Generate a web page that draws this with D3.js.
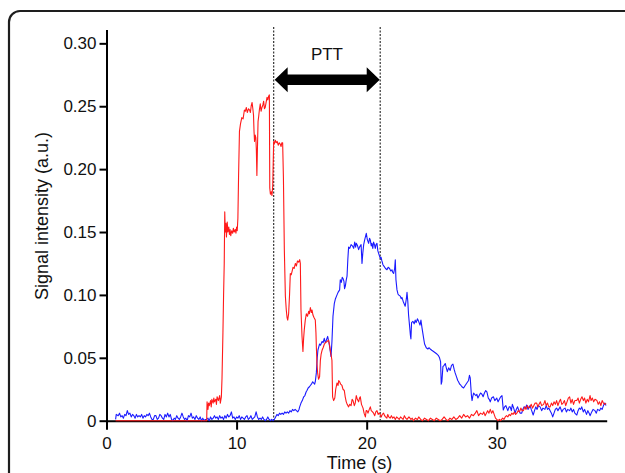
<!DOCTYPE html>
<html lang="en">
<head>
	<meta charset="UTF-8">
	<title>PTT signal</title>
	<style>
		body { margin: 0; background: #fff; }
		svg { display: block; font-family: "Liberation Sans", Arial, Helvetica, sans-serif; }
		.frame { fill: none; stroke: #1e1e1e; stroke-width: 2.2px; }
		.axis path, .axis line { stroke: #000; stroke-width: 2px; }
		.axis text { font-size: 17px; fill: #111; }
		.line { fill: none; stroke-width: 1.1px; stroke-linejoin: round; }
		.red { stroke: #ff1a1a; }
		.blue { stroke: #1a1aff; }
		.marker { stroke: #333; stroke-width: 1.2px; stroke-dasharray: 2px 1.5px; }
		.title { font-size: 18px; fill: #111; }
	</style>
	<script src="https://cdn.jsdelivr.net/npm/d3@7"></script>
</head>
<body>
	<div class="wrap"></div>
	<script>
	// axis ticks
	var xTicks = [0, 10, 20, 30];
	var yTicks = [0, 0.05, 0.10, 0.15, 0.20, 0.25, 0.30];

	// transit time markers (s)
	var pttStart = 12.85, pttEnd = 21.04;

	// red trace [time (s), intensity]
	var redSeries = [
		[0.7,0],[7.7,0],[7.73,0.015],[7.8,0.009],[7.85,0.014],[7.9,0.012],[8.0,0.016],[8.05,0.011],[8.1,0.017],[8.2,0.014],
		[8.25,0.018],[8.3,0.015],[8.4,0.017],[8.45,0.013],[8.5,0.019],[8.6,0.016],[8.7,0.020],[8.75,0.014],[8.83,0.019],[8.88,0.034],
		[8.95,0.070],[9.0,0.100],[9.05,0.125],[9.09,0.166],[9.13,0.150],[9.18,0.157],[9.22,0.146],[9.28,0.158],[9.33,0.150],[9.4,0.154],
		[9.45,0.148],[9.5,0.152],[9.55,0.147],[9.62,0.151],[9.7,0.149],[9.75,0.153],[9.82,0.150],[9.9,0.152],[9.95,0.149],[10.0,0.154],
		[10.05,0.151],[10.1,0.161],[10.15,0.193],[10.22,0.230],[10.3,0.236],[10.4,0.241],[10.5,0.240],[10.6,0.247],[10.67,0.246],[10.75,0.249],
		[10.82,0.245],[10.92,0.248],[11.0,0.247],[11.06,0.245],[11.12,0.250],[11.19,0.253],[11.25,0.248],[11.3,0.243],[11.34,0.230],[11.38,0.222],
		[11.43,0.227],[11.48,0.225],[11.52,0.215],[11.56,0.195],[11.6,0.215],[11.65,0.238],[11.7,0.242],[11.75,0.247],[11.82,0.252],[11.88,0.246],
		[11.95,0.249],[12.02,0.251],[12.08,0.254],[12.14,0.248],[12.2,0.249],[12.27,0.253],[12.34,0.257],[12.4,0.255],[12.46,0.258],[12.52,0.259],
		[12.55,0.185],[12.6,0.180],[12.67,0.182],[12.72,0.179],[12.78,0.187],[12.85,0.222],[12.9,0.220],[12.98,0.223],[13.05,0.221],[13.12,0.222],
		[13.2,0.219],[13.28,0.221],[13.35,0.220],[13.42,0.218],[13.48,0.221],[13.54,0.221],[13.6,0.193],[13.67,0.136],[13.75,0.099],[13.82,0.088],
		[13.88,0.082],[13.93,0.080],[14.0,0.085],[14.07,0.100],[14.13,0.117],[14.2,0.116],[14.27,0.119],[14.34,0.122],[14.42,0.121],[14.52,0.125],
		[14.6,0.123],[14.68,0.127],[14.77,0.126],[14.85,0.128],[14.9,0.125],[14.95,0.088],[15.03,0.067],[15.07,0.060],[15.1,0.055],[15.15,0.065],
		[15.2,0.072],[15.28,0.080],[15.36,0.085],[15.45,0.083],[15.54,0.087],[15.6,0.085],[15.67,0.090],[15.75,0.086],[15.8,0.088],[15.87,0.084],
		[15.95,0.082],[16.05,0.080],[16.1,0.070],[16.13,0.059],[16.18,0.045],[16.23,0.038],[16.3,0.033],[16.38,0.035],[16.44,0.048],[16.5,0.053],
		[16.57,0.056],[16.65,0.058],[16.75,0.061],[16.82,0.062],[16.95,0.063],[17.07,0.064],[17.15,0.060],[17.2,0.056],[17.27,0.052],[17.33,0.048],
		[17.38,0.019],[17.46,0.016],[17.55,0.018],[17.62,0.025],[17.72,0.030],[17.8,0.028],[17.85,0.032],[17.92,0.031],[18.0,0.029],[18.1,0.028],
		[18.18,0.025],[18.28,0.024],[18.35,0.019],[18.43,0.015],[18.5,0.013],[18.61,0.011],[18.7,0.013],[18.8,0.012],[18.88,0.017],[18.95,0.016],
		[19.05,0.012],[19.12,0.014],[19.2,0.020],[19.28,0.017],[19.38,0.015],[19.45,0.018],[19.51,0.019],[19.6,0.013],[19.72,0.010],[19.8,0.006],
		[19.9,0.003],[19.96,0.008],[20.02,0.008],[20.1,0.006],[20.2,0.009],[20.28,0.011],[20.35,0.008],[20.45,0.007],[20.53,0.006],[20.62,0.004],
		[20.7,0.007],[20.79,0.008],[20.88,0.005],[20.95,0.006],[21.04,0.005],[21.12,0.003],[21.2,0.005],[21.3,0.006],[21.38,0.004],[21.45,0.003],
		[21.55,0.002],[21.62,0.005],[21.7,0.003],[21.8,0.002],[21.9,0.004],[22.0,0.002],[22.1,0.003],[22.2,0.001],[22.3,0.003],[22.4,0.002],
		[22.5,0.001],[22.6,0.003],[22.7,0.002],[22.8,0.001],[22.9,0.004],[23.0,0.002],[23.1,0.001],[23.25,0.003],[23.4,0.001],[23.5,0.002],
		[23.6,0.000],[23.75,0.002],[23.9,0.001],[24.0,0.003],[24.15,0.001],[24.3,0.000],[24.45,0.002],[24.6,0.001],[24.75,0.000],[24.9,0.002],
		[25.05,0.001],[25.2,0.000],[25.35,0.002],[25.5,0.001],[25.65,0.000],[25.8,0.001],[25.95,0.003],[26.1,0.001],[26.25,0.000],[26.4,0.002],
		[26.55,0.001],[26.7,0.003],[26.85,0.001],[27.0,0.002],[27.15,0.004],[27.3,0.002],[27.45,0.005],[27.6,0.003],[27.75,0.004],[27.9,0.002],
		[28.05,0.005],[28.2,0.004],[28.35,0.006],[28.47,0.008],[28.6,0.004],[28.75,0.006],[28.9,0.005],[29.0,0.007],[29.1,0.004],[29.2,0.006],
		[29.3,0.008],[29.4,0.006],[29.5,0.009],[29.6,0.006],[29.7,0.008],[29.8,0.005],[29.9,0.002],[30.0,0.001],[30.1,0.000],[30.2,0.001],
		[30.3,0.000],[30.45,0.002],[30.55,0.001],[30.65,0.003],[30.75,0.004],[30.85,0.003],[30.95,0.005],[31.05,0.004],[31.15,0.006],[31.25,0.005],
		[31.35,0.007],[31.45,0.005],[31.54,0.006],[31.65,0.008],[31.75,0.007],[31.85,0.010],[31.95,0.008],[32.05,0.008],[32.15,0.011],[32.25,0.009],
		[32.35,0.012],[32.45,0.010],[32.56,0.011],[32.65,0.013],[32.75,0.010],[32.85,0.012],[32.95,0.014],[33.07,0.014],[33.15,0.011],[33.25,0.013],
		[33.35,0.015],[33.45,0.012],[33.6,0.013],[33.7,0.016],[33.8,0.012],[33.9,0.014],[34.0,0.011],[34.1,0.011],[34.2,0.014],[34.3,0.012],
		[34.4,0.015],[34.5,0.013],[34.6,0.016],[34.7,0.012],[34.8,0.015],[34.9,0.017],[35.0,0.013],[35.1,0.014],[35.2,0.016],[35.3,0.012],
		[35.4,0.015],[35.5,0.018],[35.6,0.019],[35.7,0.014],[35.8,0.017],[35.9,0.013],[36.0,0.016],[36.15,0.016],[36.25,0.018],[36.35,0.014],
		[36.45,0.017],[36.55,0.019],[36.66,0.016],[36.75,0.018],[36.85,0.014],[36.95,0.017],[37.05,0.015],[37.17,0.020],[37.25,0.016],[37.35,0.018],
		[37.45,0.015],[37.55,0.017],[37.7,0.016],[37.8,0.013],[37.9,0.015],[38.0,0.012],[38.1,0.016],[38.2,0.014],[38.3,0.013],[38.4,0.014]
	];

	// blue trace [time (s), intensity]
	var blueSeries = [
		[0.7,0.001],[0.75,0.005],[0.9,0.004],[1.0,0.006],[1.1,0.003],[1.2,0.004],[1.3,0.002],[1.4,0.005],[1.5,0.004],[1.6,0.008],
		[1.7,0.005],[1.8,0.006],[1.9,0.003],[2.0,0.005],[2.1,0.004],[2.2,0.002],[2.3,0.005],[2.4,0.003],[2.5,0.004],[2.6,0.003],
		[2.7,0.005],[2.8,0.002],[2.9,0.004],[3.0,0.003],[3.1,0.005],[3.2,0.004],[3.3,0.006],[3.4,0.003],[3.5,0.001],[3.6,0.001],
		[3.7,0.004],[3.8,0.004],[3.9,0.001],[4.0,0.002],[4.1,0.005],[4.2,0.004],[4.3,0.002],[4.4,0.001],[4.5,0.005],[4.6,0.003],
		[4.7,0.006],[4.8,0.003],[4.9,0.005],[5.0,0.001],[5.1,0.000],[5.2,0.002],[5.3,0.001],[5.4,0.004],[5.5,0.002],[5.6,0.001],
		[5.7,0.003],[5.8,0.006],[5.9,0.003],[6.0,0.001],[6.1,0.002],[6.2,0.000],[6.3,0.004],[6.4,0.003],[6.5,0.006],[6.6,0.002],
		[6.7,0.003],[6.8,0.001],[6.9,0.004],[7.0,0.002],[7.1,0.001],[7.2,0.003],[7.3,0.000],[7.4,0.002],[7.5,0.000],[7.6,0.001],
		[7.7,0.001],[7.8,0.002],[7.9,0.000],[8.0,0.003],[8.1,0.001],[8.2,0.002],[8.3,0.004],[8.4,0.002],[8.5,0.003],[8.6,0.001],
		[8.7,0.004],[8.8,0.002],[8.9,0.003],[9.0,0.001],[9.1,0.004],[9.2,0.002],[9.3,0.005],[9.4,0.003],[9.5,0.004],[9.6,0.007],
		[9.7,0.002],[9.8,0.003],[9.9,0.001],[10.0,0.003],[10.1,0.002],[10.2,0.004],[10.3,0.001],[10.4,0.003],[10.5,0.002],[10.6,0.001],
		[10.7,0.003],[10.8,0.004],[10.9,0.001],[11.0,0.002],[11.1,0.004],[11.2,0.001],[11.3,0.002],[11.4,0.003],[11.5,0.007],[11.6,0.003],
		[11.7,0.001],[11.8,0.002],[11.9,0.001],[12.0,0.003],[12.1,0.001],[12.2,0.000],[12.3,0.001],[12.4,0.003],[12.5,0.001],[12.6,0.000],
		[12.7,0.001],[12.8,0.000],[12.9,0.001],[13.0,0.003],[13.1,0.005],[13.2,0.004],[13.3,0.006],[13.4,0.005],[13.5,0.006],[13.6,0.005],
		[13.7,0.007],[13.8,0.006],[13.9,0.007],[14.0,0.006],[14.1,0.008],[14.2,0.007],[14.3,0.009],[14.4,0.008],[14.5,0.009],[14.6,0.008],
		[14.7,0.007],[14.8,0.009],[14.85,0.011],[14.95,0.014],[15.05,0.016],[15.16,0.019],[15.25,0.020],[15.35,0.023],[15.41,0.024],[15.5,0.026],
		[15.6,0.027],[15.67,0.028],[15.75,0.029],[15.85,0.031],[15.92,0.030],[16.0,0.029],[16.05,0.031],[16.13,0.038],[16.2,0.050],[16.25,0.056],
		[16.38,0.061],[16.45,0.060],[16.57,0.063],[16.65,0.062],[16.74,0.0655],[16.82,0.062],[16.9,0.064],[17.0,0.067],[17.08,0.063],[17.15,0.059],
		[17.26,0.051],[17.33,0.063],[17.41,0.083],[17.51,0.093],[17.6,0.097],[17.72,0.100],[17.8,0.102],[17.92,0.104],[17.97,0.112],[18.05,0.110],
		[18.12,0.114],[18.18,0.113],[18.25,0.111],[18.3,0.105],[18.36,0.107],[18.43,0.112],[18.49,0.115],[18.55,0.128],[18.61,0.138],[18.7,0.137],
		[18.8,0.140],[18.9,0.139],[19.0,0.137],[19.08,0.142],[19.15,0.138],[19.2,0.141],[19.3,0.139],[19.38,0.136],[19.45,0.138],[19.57,0.140],
		[19.64,0.125],[19.7,0.133],[19.77,0.140],[19.85,0.144],[19.97,0.149],[20.05,0.144],[20.15,0.141],[20.22,0.145],[20.28,0.1435],[20.35,0.139],
		[20.4,0.141],[20.47,0.137],[20.53,0.142],[20.6,0.140],[20.66,0.137],[20.72,0.140],[20.79,0.141],[20.86,0.135],[20.92,0.133],[20.98,0.131],
		[21.04,0.129],[21.1,0.130],[21.17,0.127],[21.25,0.124],[21.35,0.1225],[21.45,0.121],[21.56,0.120],[21.65,0.122],[21.76,0.121],[21.85,0.119],
		[21.94,0.120],[22.0,0.118],[22.07,0.117],[22.15,0.121],[22.2,0.128],[22.25,0.112],[22.33,0.104],[22.4,0.101],[22.45,0.100],[22.58,0.099],
		[22.65,0.097],[22.71,0.098],[22.8,0.095],[22.88,0.093],[22.96,0.091],[23.05,0.097],[23.1,0.102],[23.16,0.095],[23.22,0.084],[23.3,0.075],
		[23.36,0.068],[23.4,0.065],[23.45,0.078],[23.55,0.079],[23.65,0.077],[23.73,0.080],[23.8,0.078],[23.9,0.081],[23.99,0.079],[24.1,0.076],
		[24.17,0.080],[24.25,0.074],[24.37,0.066],[24.45,0.061],[24.58,0.058],[24.7,0.057],[24.8,0.058],[24.88,0.057],[25.0,0.056],[25.14,0.055],
		[25.27,0.054],[25.4,0.053],[25.5,0.052],[25.6,0.050],[25.68,0.047],[25.73,0.029],[25.78,0.031],[25.86,0.043],[25.95,0.044],[26.04,0.0455],
		[26.12,0.042],[26.2,0.039],[26.3,0.042],[26.42,0.040],[26.52,0.044],[26.63,0.045],[26.72,0.041],[26.8,0.038],[26.9,0.035],[27.0,0.032],
		[27.06,0.031],[27.15,0.029],[27.25,0.028],[27.32,0.027],[27.45,0.026],[27.57,0.028],[27.7,0.030],[27.83,0.032],[27.9,0.036],[27.96,0.034],
		[28.05,0.020],[28.1,0.016],[28.15,0.019],[28.22,0.022],[28.3,0.021],[28.4,0.020],[28.47,0.021],[28.55,0.018],[28.65,0.020],[28.75,0.022],
		[28.86,0.021],[28.95,0.019],[29.05,0.022],[29.15,0.024],[29.24,0.023],[29.35,0.018],[29.42,0.017],[29.5,0.015],[29.6,0.018],[29.74,0.019],
		[29.85,0.016],[30.0,0.018],[30.1,0.015],[30.2,0.017],[30.3,0.019],[30.4,0.020],[30.5,0.0085],[30.6,0.011],[30.7,0.012],[30.77,0.010],
		[30.85,0.008],[30.95,0.011],[31.03,0.011],[31.12,0.008],[31.2,0.013],[31.3,0.010],[31.41,0.006],[31.5,0.009],[31.6,0.011],[31.7,0.008],
		[31.8,0.006],[31.92,0.006],[32.0,0.009],[32.1,0.011],[32.2,0.010],[32.3,0.0125],[32.4,0.009],[32.5,0.011],[32.56,0.012],[32.65,0.009],
		[32.8,0.0045],[32.9,0.008],[33.0,0.011],[33.1,0.009],[33.2,0.012],[33.33,0.011],[33.45,0.008],[33.55,0.010],[33.7,0.009],[33.8,0.012],
		[33.9,0.009],[34.0,0.010],[34.1,0.008],[34.2,0.006],[34.3,0.003],[34.4,0.006],[34.5,0.009],[34.6,0.010],[34.7,0.008],[34.87,0.011],
		[35.0,0.007],[35.1,0.009],[35.25,0.010],[35.35,0.007],[35.45,0.009],[35.6,0.008],[35.7,0.010],[35.8,0.007],[35.9,0.009],[36.0,0.006],
		[36.15,0.0045],[36.25,0.008],[36.35,0.010],[36.45,0.009],[36.53,0.011],[36.65,0.007],[36.75,0.009],[36.9,0.005],[37.0,0.008],[37.1,0.006],
		[37.17,0.004],[37.3,0.007],[37.4,0.009],[37.55,0.008],[37.65,0.006],[37.75,0.009],[37.9,0.008],[38.0,0.010],[38.1,0.009],[38.2,0.012],
		[38.3,0.014],[38.4,0.012]
	];

	var width = 625, height = 473;

	// scales (pixel ranges measured from the layout)
	var x = d3.scaleLinear().domain([0, 38.45]).range([106.5, 606.7]);
	var y = d3.scaleLinear().domain([0, 0.311]).range([420.7, 29.5]);

	var svg = d3.select(".wrap").append("svg")
		.attr("width", width)
		.attr("height", height);

	// rounded frame, cut off at right and bottom
	svg.append("rect")
		.attr("class", "frame")
		.attr("x", 9).attr("y", 11)
		.attr("width", 680).attr("height", 520)
		.attr("rx", 11).attr("ry", 11);

	// Y axis
	svg.append("g")
		.attr("class", "axis")
		.attr("transform", "translate(" + x(0) + ",0)")
		.call(d3.axisLeft(y).tickValues(yTicks).tickSize(7).tickSizeOuter(0).tickPadding(3)
			.tickFormat(function(d) { return d === 0 ? "0" : d.toFixed(2); }));

	// X axis
	svg.append("g")
		.attr("class", "axis")
		.attr("transform", "translate(0," + y(0) + ")")
		.call(d3.axisBottom(x).tickValues(xTicks).tickSize(9).tickSizeOuter(0).tickPadding(7)
			.tickFormat(d3.format("d")));

	// axis titles
	svg.append("text")
		.attr("class", "title")
		.attr("text-anchor", "middle")
		.attr("transform", "translate(48,216) rotate(-90)")
		.text("Signal intensity (a.u.)");

	svg.append("text")
		.attr("class", "title")
		.attr("text-anchor", "middle")
		.attr("x", 359.5).attr("y", 469)
		.text("Time (s)");

	// dotted markers
	svg.selectAll("line.marker").data([pttStart, pttEnd]).enter().append("line")
		.attr("class", "marker")
		.attr("x1", function(d) { return x(d); })
		.attr("x2", function(d) { return x(d); })
		.attr("y1", y(0.313))
		.attr("y2", y(0));

	// traces
	var valline = d3.line()
		.x(function(d) { return x(d[0]); })
		.y(function(d) { return y(d[1]); });

	svg.append("path").datum(blueSeries).attr("class", "line blue").attr("d", valline);
	svg.append("path").datum(redSeries).attr("class", "line red").attr("d", valline);

	// double headed arrow between markers
	var ax0 = x(pttStart) + 1, ax1 = x(pttEnd) - 0.5, ay = y(0.271);
	var head = 13, hh = 12.5, sh = 5.3;
	svg.append("path")
		.attr("fill", "#000")
		.attr("d", "M" + ax0 + "," + ay +
			"L" + (ax0 + head) + "," + (ay - hh) +
			"L" + (ax0 + head) + "," + (ay - sh) +
			"L" + (ax1 - head) + "," + (ay - sh) +
			"L" + (ax1 - head) + "," + (ay - hh) +
			"L" + ax1 + "," + ay +
			"L" + (ax1 - head) + "," + (ay + hh) +
			"L" + (ax1 - head) + "," + (ay + sh) +
			"L" + (ax0 + head) + "," + (ay + sh) +
			"L" + (ax0 + head) + "," + (ay + hh) + "Z");

	svg.append("text")
		.attr("x", (x(pttStart) + x(pttEnd)) / 2)
		.attr("y", 60)
		.attr("text-anchor", "middle")
		.attr("font-size", "17px")
		.attr("fill", "#111")
		.text("PTT");
	</script>
</body>
</html>
